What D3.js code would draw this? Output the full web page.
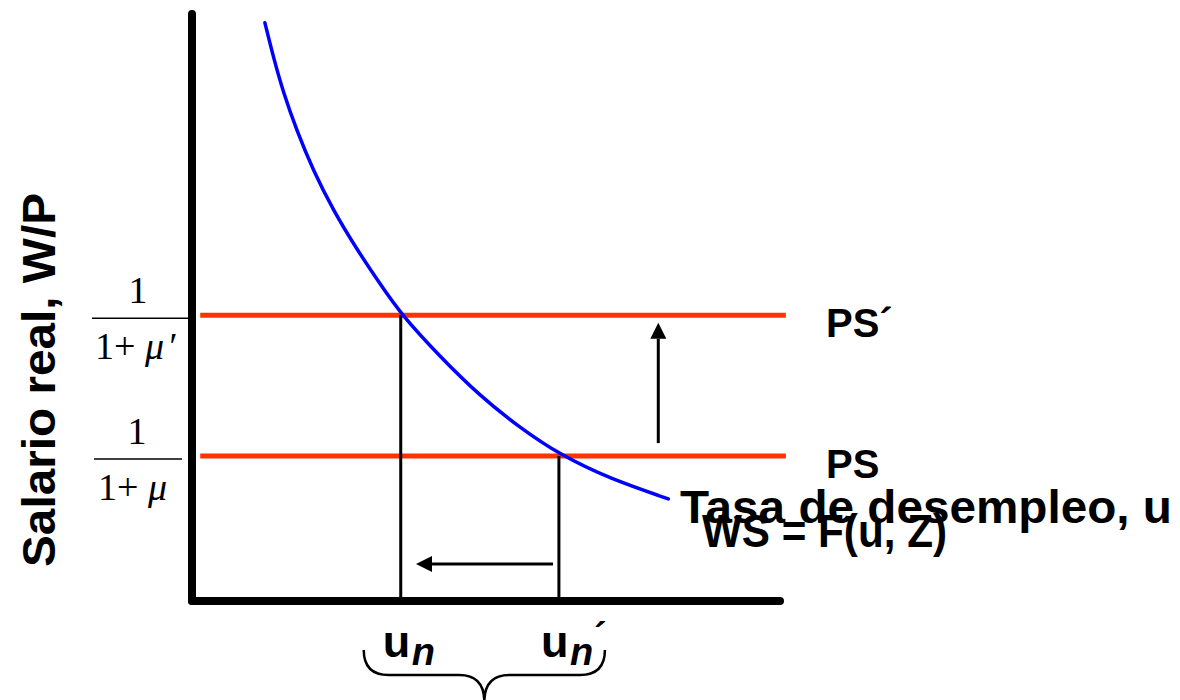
<!DOCTYPE html>
<html><head><meta charset="utf-8">
<script src="https://cdn.jsdelivr.net/npm/d3@7"></script>
<style>html,body{margin:0;padding:0;background:#fff;}svg{display:block;}</style>
</head><body>
<svg id="c" width="1180" height="700"></svg>
<script>
// ---- data (chart units) ----
const wsU = [1.24,1.38,1.55,1.79,2.06,2.40,2.81,3.20,3.55,4.22,4.90,5.58,6.26,7.11,8.10];
const wsV = [9.85,9.28,8.67,7.99,7.34,6.66,5.98,5.40,4.89,4.16,3.49,2.95,2.49,2.08,1.74];
const psLevels = [4.87, 2.47];           // PS´, PS
const psLabels = ["PS\u00B4", "PS"];
const psSpan = [0.14, 10.1];
const unValues = [3.55, 6.24];           // u_n, u_n´
const arrowUp = {u: 7.93, from: 2.69, to: 4.74};
const arrowLeft = {v: 0.63, from: 6.14, to: 3.81};
const xLabel = "Tasa de desempleo, u";
const yLabel = "Salario real, W/P";
const wsLabel = "WS = F(u, Z)";

const svg = d3.select("#c");
const x = d3.scaleLinear().domain([0,10]).range([192,780]);
const y = d3.scaleLinear().domain([0,10]).range([601,14]);

const sans = "'Liberation Sans', Arial, sans-serif";
const serif = "'Liberation Serif', 'Times New Roman', serif";

// PS lines
svg.selectAll("line.ps").data(psLevels).enter().append("line")
  .attr("x1", x(psSpan[0])).attr("x2", x(psSpan[1]))
  .attr("y1", d => y(d)).attr("y2", d => y(d))
  .attr("stroke", "#ff3300").attr("stroke-width", 5);

// vertical drop lines
svg.selectAll("line.drop").data(unValues).enter().append("line")
  .attr("x1", d => x(d)).attr("x2", d => x(d))
  .attr("y1", (d,i) => y(psLevels[i])).attr("y2", y(0))
  .attr("stroke", "#000").attr("stroke-width", 3);

// WS curve
const wsPts = wsU.map((u,i) => [u, wsV[i]]);
svg.append("path").datum(wsPts)
  .attr("d", d3.line().x(d => x(d[0])).y(d => y(d[1])).curve(d3.curveBasis))
  .attr("fill", "none").attr("stroke", "#0000ff").attr("stroke-width", 3.5)
  .attr("stroke-linecap", "round");

// axes
svg.append("line").attr("x1", x(0)).attr("x2", x(0)).attr("y1", y(10)).attr("y2", y(0))
  .attr("stroke", "#000").attr("stroke-width", 8).attr("stroke-linecap", "round");
svg.append("line").attr("x1", x(0)).attr("x2", x(10)).attr("y1", y(0)).attr("y2", y(0))
  .attr("stroke", "#000").attr("stroke-width", 8).attr("stroke-linecap", "round");

// arrows
const ah = 16, aw = 8;
{
  const ax = x(arrowUp.u), y0 = y(arrowUp.from), y1 = y(arrowUp.to);
  svg.append("line").attr("x1", ax).attr("x2", ax).attr("y1", y0).attr("y2", y1 + ah)
    .attr("stroke", "#000").attr("stroke-width", 3);
  svg.append("path").attr("d", `M${ax},${y1} L${ax-aw},${y1+ah} L${ax+aw},${y1+ah} Z`).attr("fill", "#000");
}
{
  const ay = y(arrowLeft.v), x0 = x(arrowLeft.from), x1 = x(arrowLeft.to);
  svg.append("line").attr("x1", x0).attr("x2", x1 + ah).attr("y1", ay).attr("y2", ay)
    .attr("stroke", "#000").attr("stroke-width", 3);
  svg.append("path").attr("d", `M${x1},${ay} L${x1+ah},${ay-aw} L${x1+ah},${ay+aw} Z`).attr("fill", "#000");
}

// PS labels
svg.selectAll("text.ps").data(psLevels).enter().append("text")
  .attr("x", 826).attr("y", d => y(d) + 22)
  .attr("font-family", sans).attr("font-weight", "bold").attr("font-size", 40)
  .text((d,i) => psLabels[i]);

// axis labels
svg.append("text").attr("x", 680).attr("y", 523)
  .attr("font-family", sans).attr("font-weight", "bold").attr("font-size", 46)
  .attr("textLength", 492).attr("lengthAdjust", "spacingAndGlyphs")
  .text(xLabel);
svg.append("text").attr("x", 702).attr("y", 547)
  .attr("font-family", sans).attr("font-weight", "bold").attr("font-size", 47)
  .attr("textLength", 245).attr("lengthAdjust", "spacingAndGlyphs")
  .text(wsLabel);
svg.append("text").attr("transform", "translate(55,380) rotate(-90)")
  .attr("text-anchor", "middle")
  .attr("font-family", sans).attr("font-weight", "bold").attr("font-size", 47)
  .attr("textLength", 374).attr("lengthAdjust", "spacingAndGlyphs")
  .text(yLabel);

// fraction tick labels
const fracs = [
  {v: psLevels[0], prime: true, lx1: 92, lx2: 188, numX: 138, denX: 95},
  {v: psLevels[1], prime: false, lx1: 94, lx2: 182, numX: 137, denX: 98}
];
fracs.forEach(f => {
  const ly = y(f.v) + 3;
  svg.append("text").attr("x", f.numX).attr("y", ly - 15).attr("text-anchor", "middle")
    .attr("font-family", serif).attr("font-size", 38).text("1");
  svg.append("line").attr("x1", f.lx1).attr("x2", f.lx2).attr("y1", ly).attr("y2", ly)
    .attr("stroke", "#000").attr("stroke-width", 1.5);
  const t = svg.append("text").attr("x", f.denX).attr("y", ly + 41)
    .attr("font-family", serif).attr("font-size", 38);
  t.append("tspan").text("1+ ");
  t.append("tspan").attr("font-style", "italic").text("\u03BC");
  if (f.prime) t.append("tspan").attr("font-style", "italic").attr("dx", 3).text("\u2032");
});

// u_n labels
unValues.forEach((u, i) => {
  const bx = x(u) - 18;
  svg.append("text").attr("x", bx).attr("y", 657)
    .attr("font-family", sans).attr("font-weight", "bold").attr("font-size", 45).text("u");
  svg.append("text").attr("x", bx + 29).attr("y", 665)
    .attr("font-family", sans).attr("font-weight", "bold").attr("font-style", "italic")
    .attr("font-size", 38).text("n");
  if (i === 1) {
    svg.append("text").attr("x", bx + 53).attr("y", 650)
      .attr("font-family", sans).attr("font-weight", "bold").attr("font-size", 38).text("\u00B4");
  }
});

// brace under u_n .. u_n´
{
  const l = x(unValues[0]) - 37, r = x(unValues[1]) + 46, m = (l + r) / 2;
  const top = 650, mid = 675, bot = 702;
  svg.append("path")
    .attr("d", `M${l},${top} Q${l},${mid} ${l+25},${mid} L${m-25},${mid} Q${m},${mid} ${m},${bot} Q${m},${mid} ${m+25},${mid} L${r-25},${mid} Q${r},${mid} ${r},${top}`)
    .attr("fill", "none").attr("stroke", "#000").attr("stroke-width", 2.5);
}
</script>
</body></html>
